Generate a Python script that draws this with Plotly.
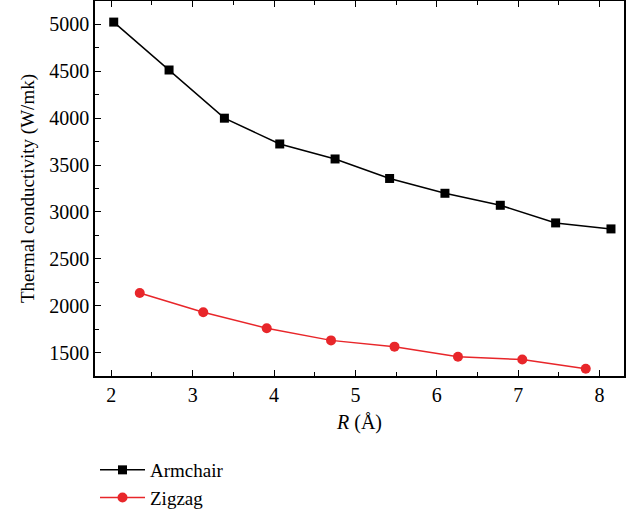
import plotly.graph_objects as go

arm_r = [2.03, 2.71, 3.39, 4.07, 4.75, 5.42, 6.10, 6.78, 7.46, 8.14]
arm_k = [5025, 4514, 4000, 3725, 3565, 3357, 3199, 3071, 2883, 2819]
zig_r = [2.35, 3.13, 3.91, 4.70, 5.48, 6.26, 7.05, 7.83]
zig_k = [2135, 1930, 1760, 1630, 1563, 1455, 1426, 1327]

FONT = "Liberation Serif"

fig = go.Figure()
fig.add_trace(go.Scatter(x=arm_r, y=arm_k, mode="lines+markers", name="Armchair",
                         line=dict(color="black", width=1.5),
                         marker=dict(symbol="square", size=9, color="black")))
fig.add_trace(go.Scatter(x=zig_r, y=zig_k, mode="lines+markers", name="Zigzag",
                         line=dict(color="#e8262a", width=1.5),
                         marker=dict(symbol="circle", size=10, color="#e8262a")))

axis_common = dict(showgrid=False, zeroline=False, showline=True, linecolor="black",
                   linewidth=1.5, ticks="inside", tickcolor="black", ticklen=6,
                   tickfont=dict(family=FONT, size=20, color="black"))

fig.update_xaxes(range=[1.8, 8.3], tickvals=[2, 3, 4, 5, 6, 7, 8], mirror="ticks",
                 minor=dict(dtick=0.5, ticks="inside", ticklen=4, tickcolor="black"),
                 title=dict(text="<i>R</i> (Å)", font=dict(family=FONT, size=20, color="black"),
                            standoff=10),
                 **axis_common)
fig.update_yaxes(range=[1250, 5250], tickvals=[1500, 2000, 2500, 3000, 3500, 4000, 4500, 5000],
                 mirror=True,
                 minor=dict(dtick=250, ticks="inside", ticklen=4, tickcolor="black"),
                 title=dict(text="Thermal conductivity (W/mk)",
                            font=dict(family=FONT, size=19, color="black"), standoff=10),
                 **axis_common)

fig.update_layout(
    width=636, height=511,
    margin=dict(l=95, r=12, t=1, b=135, autoexpand=False),
    plot_bgcolor="white", paper_bgcolor="white",
    showlegend=True,
    legend=dict(x=0.0, y=-0.2, xanchor="left", yanchor="top",
                font=dict(family=FONT, size=19, color="black"), itemwidth=45,
                bgcolor="rgba(0,0,0,0)", tracegroupgap=0),
)

fig.write_html("out.html")
